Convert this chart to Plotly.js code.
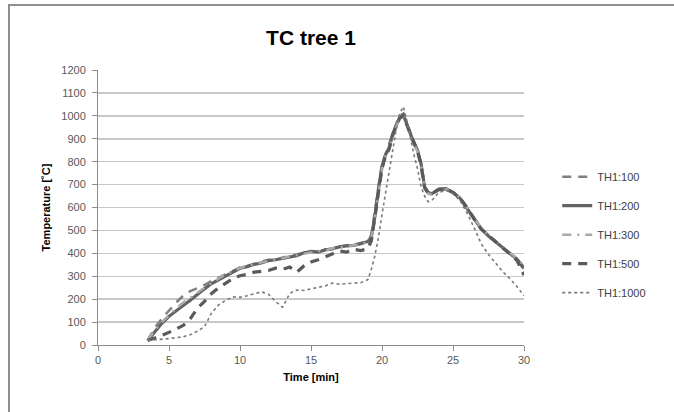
<!DOCTYPE html>
<html>
<head>
<meta charset="utf-8">
<script src="https://cdn.plot.ly/plotly-3.0.1.min.js"></script>
<style>
  html, body { margin: 0; padding: 0; background: #ffffff; overflow: hidden; }
  #wrap { position: relative; width: 674px; height: 412px; overflow: hidden; }
  #frame { position: absolute; left: 8px; top: 4px; width: 900px; height: 600px;
           border-left: 2px solid #8e8e8e; border-top: 2px solid #8e8e8e; }
  #chart { position: absolute; left: 0; top: 0; width: 674px; height: 412px; }
</style>
</head>
<body>
<div id="wrap">
  <div id="frame"></div>
  <div id="chart"></div>
</div>
<script>
// Time [min]
const time = [3.5,4,4.5,5,5.5,6,6.5,7,7.5,8,8.5,9,9.5,10,10.5,11,11.5,12,12.5,13,13.5,14,14.5,15,15.5,16,16.5,17,17.5,18,18.5,19,
  19.25,19.5,19.75,20,20.25,20.5,20.75,21,21.25,21.5,21.75,22,22.25,22.5,22.75,23,23.25,23.5,
  24,24.5,25,25.5,26,26.5,27,27.5,28,28.5,29,29.5,30];

const th100 = [20,75,115,150,185,215,235,248,262,280,295,310,325,338,345,355,362,372,370,382,388,395,400,410,408,418,418,430,435,438,445,455,
  480,575,690,790,835,870,925,965,1000,1010,965,925,885,850,795,695,665,662,
  678,680,668,642,598,552,508,478,452,428,402,372,330];

const th200 = [20,60,95,125,150,172,195,222,245,268,285,305,320,335,342,352,358,368,372,378,385,390,402,408,405,415,420,428,432,435,442,452,
  470,560,680,780,830,860,920,960,995,1005,960,920,880,850,790,690,665,660,
  680,682,665,640,595,550,505,475,450,425,400,375,335];

const th300 = [20,65,100,130,160,185,205,228,250,272,290,308,322,336,345,354,360,366,375,380,386,392,398,405,410,412,422,425,430,438,440,450,
  465,555,670,770,825,855,915,955,990,1000,955,915,875,845,785,685,660,658,
  675,680,668,645,600,552,508,478,452,428,403,378,345];

const th500 = [20,30,42,55,70,85,115,160,190,225,250,272,290,302,308,318,322,325,335,330,340,318,345,362,372,385,395,410,405,418,412,420,
  455,550,665,770,825,855,915,955,990,1000,960,920,880,845,785,685,662,660,
  678,682,665,642,598,548,505,478,450,425,400,370,305];

const th1000 = [20,22,25,28,32,36,45,60,80,140,175,195,210,208,215,225,232,222,190,165,225,240,238,245,250,258,270,265,268,270,272,285,
  330,390,470,570,660,750,850,940,1010,1040,980,900,830,770,690,650,625,630,
  665,675,660,630,575,510,440,395,355,320,290,255,215];

const seriesNames = ["TH1:100","TH1:200","TH1:300","TH1:500","TH1:1000"];
const seriesData = [th100, th200, th300, th500, th1000];
const xTicks = [0,5,10,15,20,25,30];
const yTicks = [0,100,200,300,400,500,600,700,800,900,1000,1100,1200];

const styles = [
  {color:"#808080", width:2.5, dash:"9px,7px"},
  {color:"#636363", width:3.2, dash:"solid"},
  {color:"#a9a9a9", width:2.5, dash:"9px,6px,2px,6px"},
  {color:"#5a5a5a", width:3.2, dash:"9px,7px"},
  {color:"#7a7a7a", width:1.6, dash:"dot"}
];

const traces = seriesNames.map((n,i) => ({
  type: "scatter", mode: "lines", name: n,
  x: time, y: seriesData[i],
  line: styles[i],
  legendgroup: "g"+i
}));

const font = "Liberation Sans, Arial, sans-serif";

const layout = {
  width: 674, height: 412,
  paper_bgcolor: "rgba(0,0,0,0)",
  plot_bgcolor: "rgba(0,0,0,0)",
  margin: {l:98, r:150, t:70, b:67},
  title: {text: "<b>TC tree 1</b>", x: 0.5, xref: "paper", xanchor: "center",
          y: 0.908, yref: "container", yanchor: "middle",
          font: {family: font, size: 21, color: "#000000"}},
  xaxis: {
    range: [0,30], tickvals: xTicks, ticktext: xTicks.map(String),
    showgrid: false, zeroline: false,
    showline: true, linecolor: "#8c8c8c", linewidth: 1,
    ticks: "outside", ticklen: 5, tickcolor: "#8c8c8c",
    tickfont: {family: font, size: 11, color: "#595959"},
    title: {text: "<b>Time [min]</b>", font: {family: font, size: 11, color: "#000"}, standoff: 8}
  },
  yaxis: {
    range: [0,1200], tickvals: yTicks, ticktext: yTicks.map(String),
    showgrid: true, gridcolor: "#c8c8c8", gridwidth: 1.5, zeroline: false,
    showline: true, linecolor: "#8c8c8c", linewidth: 1,
    ticks: "outside", ticklen: 5, tickcolor: "#8c8c8c", ticklabelstandoff: 4,
    tickfont: {family: font, size: 11, color: "#595959"},
    title: {text: "<b>Temperature [˚C]</b>", font: {family: font, size: 11, color: "#000"}, standoff: 8}
  },
  showlegend: true,
  legend: {
    x: 1.078, xanchor: "left", y: 0.665, yanchor: "top",
    font: {family: font, size: 11, color: "#404040"},
    tracegroupgap: 10, bgcolor: "rgba(0,0,0,0)"
  }
};

Plotly.newPlot("chart", traces, layout, {staticPlot: true, displayModeBar: false});
</script>
</body>
</html>
